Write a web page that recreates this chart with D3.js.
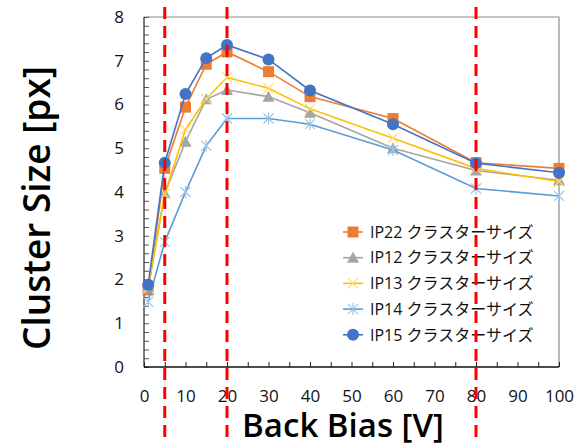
<!DOCTYPE html>
<meta charset="utf-8">
<script src="https://d3js.org/d3.v7.min.js"></script>
<style>
  body { margin: 0; background: #fff; }
  text { font-family: "Open Sans", "Noto Sans", sans-serif; }
</style>
<div id="my_dataviz"></div>
<script>

// data
var biasV = [1, 5, 10, 15, 20, 30, 40, 60, 80, 100];
var ip22 = [1.76, 4.54, 5.94, 6.92, 7.20, 6.75, 6.18, 5.68, 4.67, 4.54];
var ip12 = [1.80, 3.97, 5.15, 6.12, 6.33, 6.18, 5.81, 5.00, 4.49, 4.27];
var ip13 = [1.80, 3.95, 5.43, 6.13, 6.62, 6.37, 5.90, 5.23, 4.54, 4.24];
var ip14 = [1.49, 2.86, 4.00, 5.06, 5.68, 5.68, 5.55, 4.96, 4.08, 3.91];
var ip15 = [1.88, 4.67, 6.24, 7.06, 7.36, 7.03, 6.32, 5.55, 4.66, 4.44];
var seriesNames = ["IP22 クラスターサイズ", "IP12 クラスターサイズ", "IP13 クラスターサイズ", "IP14 クラスターサイズ", "IP15 クラスターサイズ"];
var markerLines = [5, 20, 80];
var xTicks = [0, 10, 20, 30, 40, 50, 60, 70, 80, 90, 100];
var yTicks = [0, 1, 2, 3, 4, 5, 6, 7, 8];

var W = 578, H = 444;
var margin = {top: 17, right: 19, bottom: 77, left: 144},
    width = W - margin.left - margin.right,
    height = H - margin.top - margin.bottom;

var svg = d3.select("#my_dataviz")
  .append("svg")
    .attr("width", W)
    .attr("height", H);

var g = svg.append("g")
    .attr("transform", "translate(" + margin.left + "," + margin.top + ")");

var x = d3.scaleLinear().domain([0, 100]).range([0, width]);
var y = d3.scaleLinear().domain([0, 8]).range([height, 0]);

// frame (top/right gray)
g.append("path")
  .attr("d", "M0,0H" + width + "V" + height)
  .attr("fill", "none")
  .attr("stroke", "#8c8c8c")
  .attr("stroke-width", 1.2);

// y axis: minor ticks inside every 0.2
var yAxis = g.append("g")
  .call(d3.axisRight(y).tickValues(d3.range(0, 8.01, 0.2)).tickSize(5).tickFormat(""));
yAxis.select(".domain").remove();
yAxis.selectAll("line").attr("stroke", "#555");
g.append("line").attr("x1", 0).attr("x2", 0).attr("y1", 0).attr("y2", height)
  .attr("stroke", "#333").attr("stroke-width", 1.3);

var yLab = g.append("g")
  .call(d3.axisLeft(y).tickValues(yTicks).tickSize(0).tickPadding(20).tickFormat(d3.format("d")));
yLab.select(".domain").remove();
yLab.selectAll("text").style("font-size", "17px").attr("fill", "#111")
  .style("font-family", "'Open Sans', sans-serif");

// x axis: ticks inside every 5
var xAxis = g.append("g")
  .attr("transform", "translate(0," + height + ")")
  .call(d3.axisTop(x).tickValues(d3.range(0, 101, 5)).tickSize(5).tickFormat(""));
xAxis.select(".domain").remove();
xAxis.selectAll("line").attr("stroke", "#222");
g.append("line").attr("x1", 0).attr("x2", width).attr("y1", height).attr("y2", height)
  .attr("stroke", "#111").attr("stroke-width", 1.3);

var xLab = g.append("g")
  .attr("transform", "translate(0," + height + ")")
  .call(d3.axisBottom(x).tickValues(xTicks).tickSize(0).tickPadding(23));
xLab.select(".domain").remove();
xLab.selectAll("text").style("font-size", "17px").attr("fill", "#111")
  .style("font-family", "'Open Sans', sans-serif");

// axis titles
svg.append("text")
  .attr("x", 343)
  .attr("y", 437)
  .style("text-anchor", "middle")
  .style("font-size", "33px")
  .style("font-weight", "600")
  .attr("fill", "#000")
  .text("Back Bias [V]");

svg.append("text")
  .attr("transform", "translate(50,208) rotate(-90)")
  .style("text-anchor", "middle")
  .style("font-size", "37px")
  .style("font-weight", "600")
  .attr("fill", "#000")
  .text("Cluster Size [px]");

// series
var seriesData = [ip22, ip12, ip13, ip14, ip15];
var lineCols = ["#ED7D31", "#A5A5A5", "#FFC000", "#5B9BD5", "#4472C4"];
var markCols = ["#ED7D31", "#A5A5A5", "#FFD966", "#9DC3E6", "#4472C4"];
var shapes = ["square", "triangle", "x", "star", "circle"];

var line = d3.line()
  .x(function(d) { return x(d[0]); })
  .y(function(d) { return y(d[1]); });

function drawMarker(sel, shape, col) {
  if (shape == "square") {
    sel.append("rect").attr("x", -5.5).attr("y", -5.5).attr("width", 11).attr("height", 11).attr("fill", col);
  } else if (shape == "triangle") {
    sel.append("path").attr("d", "M0,-6L6,5H-6Z").attr("fill", col);
  } else if (shape == "x") {
    sel.append("path").attr("d", "M-5,-5L5,5M-5,5L5,-5").attr("stroke", col).attr("stroke-width", 1.2);
  } else if (shape == "star") {
    sel.append("path").attr("d", "M-5,-5L5,5M-5,5L5,-5M0,-6V6").attr("stroke", col).attr("stroke-width", 1.2);
  } else {
    sel.append("circle").attr("r", 6).attr("fill", col);
  }
}

seriesData.forEach(function(vals, i) {
  var pts = biasV.map(function(v, j) { return [v, vals[j]]; });
  g.append("path")
    .datum(pts)
    .attr("d", line)
    .attr("fill", "none")
    .attr("stroke", lineCols[i])
    .attr("stroke-width", 1.6);
  g.selectAll(".m" + i)
    .data(pts)
    .enter()
    .append("g")
      .attr("class", "m" + i)
      .attr("transform", function(d) { return "translate(" + x(d[0]) + "," + y(d[1]) + ")"; })
      .each(function() { drawMarker(d3.select(this), shapes[i], markCols[i]); });
});

// legend
var leg = svg.append("g").attr("transform", "translate(343,232)");
seriesNames.forEach(function(name, i) {
  var row = leg.append("g").attr("transform", "translate(0," + (i * 25.7) + ")");
  row.append("line").attr("x1", 0).attr("x2", 20).attr("stroke", lineCols[i]).attr("stroke-width", 1.6);
  drawMarker(row.append("g").attr("transform", "translate(10,0)"), shapes[i], markCols[i]);
  row.append("text")
    .attr("x", 27)
    .attr("y", 0)
    .attr("dy", "0.36em")
    .style("font-size", "16px")
    .style("font-family", "'Open Sans', 'Noto Sans CJK JP', sans-serif")
    .attr("fill", "#111")
    .text(name);
});

// red dashed guide lines
svg.selectAll(".guide")
  .data(markerLines)
  .enter()
  .append("line")
    .attr("x1", function(d) { return margin.left + x(d); })
    .attr("x2", function(d) { return margin.left + x(d); })
    .attr("y1", 7)
    .attr("y2", H)
    .attr("stroke", "#FF0000")
    .attr("stroke-width", 3)
    .attr("stroke-dasharray", "12,7");

</script>
